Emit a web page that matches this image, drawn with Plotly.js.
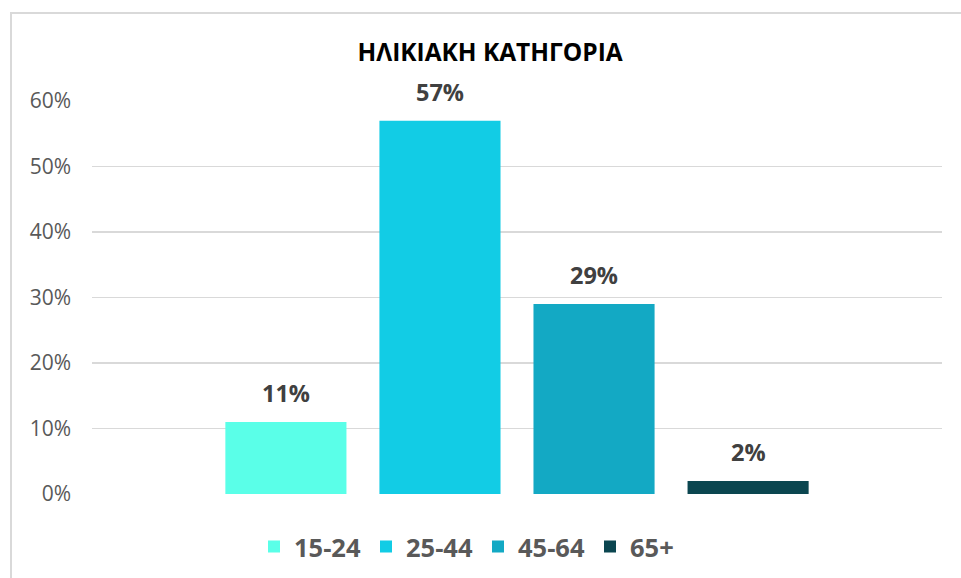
<!DOCTYPE html>
<html>
<head>
<meta charset="utf-8">
<script src="https://cdn.plot.ly/plotly-3.0.1.min.js"></script>
<style>
html,body{margin:0;padding:0;background:#fff;}
#wrap{position:relative;width:961px;height:578px;overflow:hidden;}
#frame{position:absolute;left:10px;top:12px;width:980px;height:600px;border-left:2px solid #d9d9d9;border-top:2px solid #d9d9d9;pointer-events:none;z-index:5;}
#chart{position:absolute;left:0;top:0;width:961px;height:578px;}
</style>
</head>
<body>
<div id="wrap">
<div id="chart"></div>
<div id="frame"></div>
</div>
<script>
const chartTitle = 'ΗΛΙΚΙΑΚΗ ΚΑΤΗΓΟΡΙΑ';
const categoryPos = [0];
const seriesNames = ['15-24', '25-44', '45-64', '65+'];
const seriesValues = [0.11, 0.57, 0.29, 0.02];
const seriesColors = ['#5AFFE8', '#12CCE5', '#13A9C4', '#0B4650'];
const yTickValues = [0, 0.1, 0.2, 0.3, 0.4, 0.5, 0.6];
const yTickLabels = ['0%', '10%', '20%', '30%', '40%', '50%', '60%'];

const font = '"Open Sans", "Noto Sans", sans-serif';
const bargap = 0.275;
const bargroupgap = 0.214;

const traces = seriesNames.map((name, i) => ({
  type: 'bar',
  name: name,
  x: categoryPos,
  y: [seriesValues[i]],
  marker: {color: seriesColors[i]},
  hoverinfo: 'skip'
}));

// value labels placed above each bar (centre of each group slot)
const slot = (1 - bargap) / seriesNames.length;
const annotations = seriesNames.map((name, i) => ({
  x: categoryPos[0] - (1 - bargap) / 2 + slot * (i + 0.5),
  y: seriesValues[i],
  xref: 'x', yref: 'y',
  xanchor: 'center', yanchor: 'bottom',
  yshift: 11,
  showarrow: false,
  text: '<b>' + Math.round(seriesValues[i] * 100) + '%</b>',
  font: {family: font, size: 23.5, color: '#404040'}
}));

const layout = {
  width: 961,
  height: 578,
  paper_bgcolor: '#ffffff',
  plot_bgcolor: '#ffffff',
  margin: {l: 92, r: 19, t: 101, b: 84},
  barmode: 'group',
  bargap: bargap,
  bargroupgap: bargroupgap,
  title: {
    text: '<b>' + chartTitle + '</b>',
    font: {family: font, size: 24.5, color: '#000000'},
    x: 0.51, xref: 'container', xanchor: 'center',
    y: 1 - 52 / 578, yref: 'container', yanchor: 'middle'
  },
  xaxis: {
    range: [-0.5, 0.5],
    showticklabels: false,
    showgrid: false,
    zeroline: false,
    showline: false,
    ticks: ''
  },
  yaxis: {
    range: [0, 0.6],
    tickvals: yTickValues,
    ticktext: yTickLabels,
    showgrid: true,
    gridcolor: '#d9d9d9',
    gridwidth: 1.5,
    zeroline: false,
    showline: false,
    ticks: '',
    ticklabelstandoff: 20,
    tickfont: {family: font, size: 21, color: '#595959'}
  },
  annotations: annotations,
  showlegend: true,
  legend: {
    orientation: 'h',
    xref: 'container', yref: 'container',
    x: 254 / 961, xanchor: 'left',
    y: 1 - 547 / 578, yanchor: 'middle',
    entrywidth: 67,
    entrywidthmode: 'pixels',
    font: {family: font, size: 25.5, color: '#595959', weight: 'bold'},
    itemclick: false
  }
};

Plotly.newPlot('chart', traces, layout, {displayModeBar: false, staticPlot: true});
</script>
</body>
</html>
